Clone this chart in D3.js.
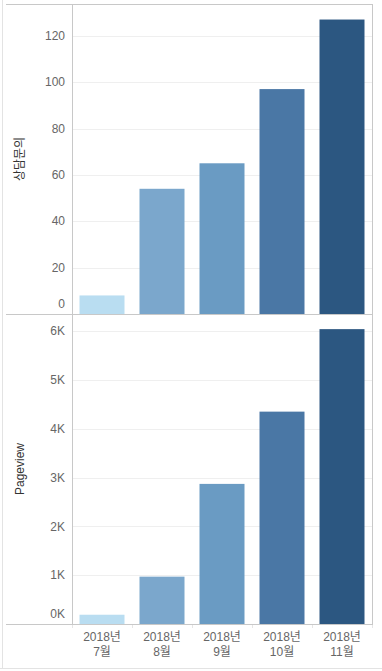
<!DOCTYPE html>
<html><head><meta charset="utf-8">
<script src="https://cdn.jsdelivr.net/npm/d3@7"></script>
<style>
body{margin:0;background:#fff;}
text{font-family:"Liberation Sans","Noto Sans CJK KR",Arial,sans-serif;}
</style></head>
<body>
<svg id="c" width="382" height="671"></svg>
<script>
const months = ["2018년\n7월","2018년\n8월","2018년\n9월","2018년\n10월","2018년\n11월"];
const inquiries = [8, 54, 65, 97, 127];
const pageviews = [190, 970, 2870, 4350, 6040];
const inquiryTicks = [0,20,40,60,80,100,120];
const pageviewTicks = [0,1000,2000,3000,4000,5000,6000];
const colors = ["#b9ddf1","#7ba7cc","#6a9bc3","#4a77a5","#2c5781"];

const svg = d3.select("#c");
const L = 72, R = 372;
const x = d3.scaleBand().domain(months).range([L, R]).paddingInner(0.25).paddingOuter(0.125);
const y1 = d3.scaleLinear().domain([0, 133.7]).range([314, 4]);
const y2 = d3.scaleLinear().domain([0, 6350]).range([624, 314]);

// outer frame
svg.append("line").attr("x1",2.5).attr("x2",2.5).attr("y1",0).attr("y2",668).attr("stroke","#e3e3e3").attr("stroke-width",1);
svg.append("line").attr("x1",0).attr("x2",382).attr("y1",668.5).attr("y2",668.5).attr("stroke","#e3e3e3").attr("stroke-width",1);

function panel(y, vals, ticks, fmt, title, titleFont){
  const g = svg.append("g");
  g.selectAll(".grid").data(ticks.filter(d=>d>0)).join("line")
    .attr("x1",L).attr("x2",R).attr("y1",d=>Math.round(y(d))+0.5).attr("y2",d=>Math.round(y(d))+0.5)
    .attr("stroke","#efefef");
  g.selectAll(".bar").data(vals).join("rect")
    .attr("x",(d,i)=>x(months[i])).attr("width",x.bandwidth())
    .attr("y",d=>y(d)).attr("height",d=>y(0)-y(d)).attr("fill",(d,i)=>colors[i]);
  g.selectAll(".tl").data(ticks).join("text")
    .attr("x",65).attr("y",d=>d===0? y(d)-10 : y(d)).attr("dy","0.35em")
    .attr("text-anchor","end").attr("font-size",12).attr("fill","#666")
    .text(fmt);
  const [y0,yTop] = y.range();
  g.append("text").attr("transform",`translate(20,${(y0+yTop)/2}) rotate(-90)`)
    .attr("text-anchor","middle").attr("dy","0.35em").attr("font-size",12).attr("fill","#333")
    .style("font-family",titleFont)
    .text(title);
}
panel(y1, inquiries, inquiryTicks, d=>d, "상담문의", "'Noto Sans CJK KR',sans-serif");
panel(y2, pageviews, pageviewTicks, d=>(d/1000)+"K", "Pageview", "'Liberation Sans',Arial,sans-serif");

// lines
const lc = "#c8c8c8";
svg.append("line").attr("x1",6).attr("x2",R).attr("y1",4.5).attr("y2",4.5).attr("stroke",lc);
svg.append("line").attr("x1",6).attr("x2",R).attr("y1",314.5).attr("y2",314.5).attr("stroke",lc);
svg.append("line").attr("x1",6).attr("x2",R).attr("y1",624.5).attr("y2",624.5).attr("stroke",lc);
svg.append("line").attr("x1",L+0.5).attr("x2",L+0.5).attr("y1",4).attr("y2",628).attr("stroke",lc);
svg.append("line").attr("x1",R+0.5).attr("x2",R+0.5).attr("y1",4).attr("y2",625).attr("stroke",lc);
// x ticks at band boundaries
const bounds = months.map(m=>x(m)-x.step()*0.125).concat([R]);
svg.selectAll(".xt").data(bounds).join("line")
  .attr("x1",d=>Math.round(d)+0.5).attr("x2",d=>Math.round(d)+0.5).attr("y1",625).attr("y2",628).attr("stroke","#e6e6e6");

// x labels
const xl = svg.selectAll(".xl").data(months).join("text")
  .attr("text-anchor","middle").attr("font-size",12).attr("fill","#666");
xl.each(function(m){
  const t = d3.select(this);
  m.split("\n").forEach((s,i)=>{
    t.append("tspan").attr("x",x(m)+x.bandwidth()/2).attr("y",641+i*15).text(s);
  });
});
</script>
</body></html>
